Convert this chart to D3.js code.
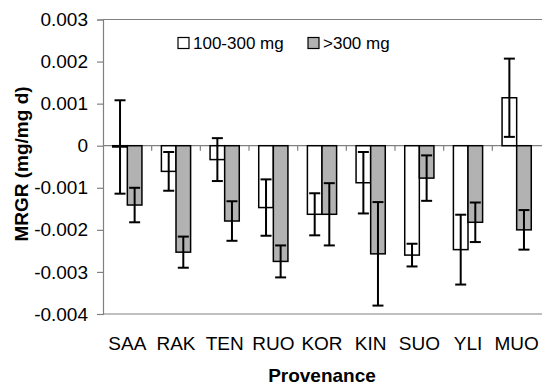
<!DOCTYPE html>
<html>
<head>
<meta charset="utf-8">
<script src="https://cdn.jsdelivr.net/npm/d3@7"></script>
<style>
  html, body { margin: 0; padding: 0; background: #fff; }
  svg { display: block; font-family: Arial, "Liberation Sans", Helvetica, sans-serif; }
</style>
</head>
<body>
<svg id="chart" width="542" height="386"></svg>
<script>
// Provenances on the x axis
const categories = ["SAA", "RAK", "TEN", "RUO", "KOR", "KIN", "SUO", "YLI", "MUO"];
// Series names
const seriesNames = ["100-300 mg", ">300 mg"];
// Mean MRGR (mg/mg d) per provenance, seedling size class 100-300 mg
const smallMeans = [-0.00003, -0.00061, -0.00033, -0.00147, -0.00163, -0.00088, -0.0026, -0.00247, 0.00114];
const smallErr   = [0.00111, 0.00046, 0.00051, 0.00067, 0.0005, 0.00073, 0.00027, 0.00083, 0.00093];
// Mean MRGR per provenance, size class >300 mg
const largeMeans = [-0.00141, -0.00253, -0.00179, -0.00275, -0.00163, -0.00257, -0.00077, -0.00182, -0.002];
const largeErr   = [0.00041, 0.00037, 0.00047, 0.00038, 0.00074, 0.00123, 0.00054, 0.00047, 0.00047];
// Y axis ticks
const yTicks = [0.003, 0.002, 0.001, 0, -0.001, -0.002, -0.003, -0.004];

const svg = d3.select("#chart");
const plot = { left: 103, right: 541, top: 19.5, bottom: 314 };

const x = d3.scaleBand().domain(categories).range([plot.left, plot.right])
  .paddingInner(0.4).paddingOuter(0.2);
const sub = d3.scaleBand().domain(seriesNames).range([0, x.bandwidth()]);
const y = d3.scaleLinear().domain([-0.004, 0.003]).range([plot.bottom, plot.top]);

const fills = ["#ffffff", "#b2b2b2"];
const axisColor = "#808080";

// frame lines: top and bottom
svg.append("line").attr("x1", plot.left).attr("x2", 542).attr("y1", y(0.003)).attr("y2", y(0.003))
  .attr("stroke", axisColor).attr("stroke-width", 1);
svg.append("line").attr("x1", plot.left).attr("x2", 542).attr("y1", y(-0.004)).attr("y2", y(-0.004))
  .attr("stroke", axisColor).attr("stroke-width", 1.2);

// y axis
const yAxis = d3.axisLeft(y).tickValues(yTicks).tickSize(6).tickPadding(9)
  .tickFormat(d => d === 0 ? "0" : d.toFixed(3));
const gy = svg.append("g").attr("transform", `translate(${plot.left},0)`).call(yAxis);
gy.select(".domain").attr("stroke", axisColor).attr("stroke-width", 1.2);
gy.selectAll(".tick line").attr("stroke", axisColor).attr("stroke-width", 1.2);
gy.selectAll(".tick text").attr("fill", "#000").style("font-size", "19px")
  .style("font-family", "Arial, 'Liberation Sans', sans-serif");

// zero line with category separator ticks
svg.append("line").attr("x1", plot.left).attr("x2", 542).attr("y1", y(0)).attr("y2", y(0))
  .attr("stroke", axisColor).attr("stroke-width", 1.2);
const sepX = categories.slice(1).map(c => x(c) - x.step() * x.paddingInner() / 2);
svg.append("g").selectAll("line").data(sepX).join("line")
  .attr("x1", d => d).attr("x2", d => d)
  .attr("y1", y(0)).attr("y2", y(0) + 5)
  .attr("stroke", axisColor).attr("stroke-width", 1.2);

// bars and error bars
const series = [
  { name: seriesNames[0], means: smallMeans, err: smallErr, fill: fills[0] },
  { name: seriesNames[1], means: largeMeans, err: largeErr, fill: fills[1] }
];
const capHalf = 5.5;
series.forEach(s => {
  const rows = categories.map((c, i) => ({ c, v: s.means[i], e: s.err[i] }));
  const g = svg.append("g");
  g.selectAll("rect").data(rows).join("rect")
    .attr("x", d => x(d.c) + sub(s.name))
    .attr("width", sub.bandwidth())
    .attr("y", d => y(Math.max(0, d.v)))
    .attr("height", d => Math.abs(y(d.v) - y(0)))
    .attr("fill", s.fill).attr("stroke", "#000").attr("stroke-width", 1.5);
  const eg = svg.append("g").attr("stroke", "#000").attr("stroke-width", 2);
  rows.forEach(d => {
    const cx = x(d.c) + sub(s.name) + sub.bandwidth() / 2;
    const y1 = y(d.v + d.e), y2 = y(d.v - d.e);
    eg.append("line").attr("x1", cx).attr("x2", cx).attr("y1", y1).attr("y2", y2);
    eg.append("line").attr("x1", cx - capHalf).attr("x2", cx + capHalf).attr("y1", y1).attr("y2", y1);
    eg.append("line").attr("x1", cx - capHalf).attr("x2", cx + capHalf).attr("y1", y2).attr("y2", y2);
  });
});

// category labels
svg.append("g").selectAll("text").data(categories).join("text")
  .attr("x", d => x(d) + x.bandwidth() / 2)
  .attr("y", 350)
  .attr("text-anchor", "middle")
  .style("font-size", "19px")
  .text(d => d);

// axis titles
svg.append("text").attr("x", (plot.left + plot.right) / 2).attr("y", 381.5)
  .attr("text-anchor", "middle").style("font-size", "19px").style("font-weight", "bold")
  .text("Provenance");
svg.append("text").attr("transform", "translate(28,164) rotate(-90)")
  .attr("text-anchor", "middle").style("font-size", "19px").style("font-weight", "bold")
  .text("MRGR (mg/mg d)");

// legend
const legendItems = [
  { name: seriesNames[0], fill: fills[0], x: 178 },
  { name: seriesNames[1], fill: fills[1], x: 308 }
];
const lg = svg.append("g");
legendItems.forEach(it => {
  lg.append("rect").attr("x", it.x).attr("y", 37.5).attr("width", 11).attr("height", 11)
    .attr("fill", it.fill).attr("stroke", "#000").attr("stroke-width", 1.2);
  lg.append("text").attr("x", it.x + 15).attr("y", 49).style("font-size", "17px").text(it.name);
});
</script>
</body>
</html>
